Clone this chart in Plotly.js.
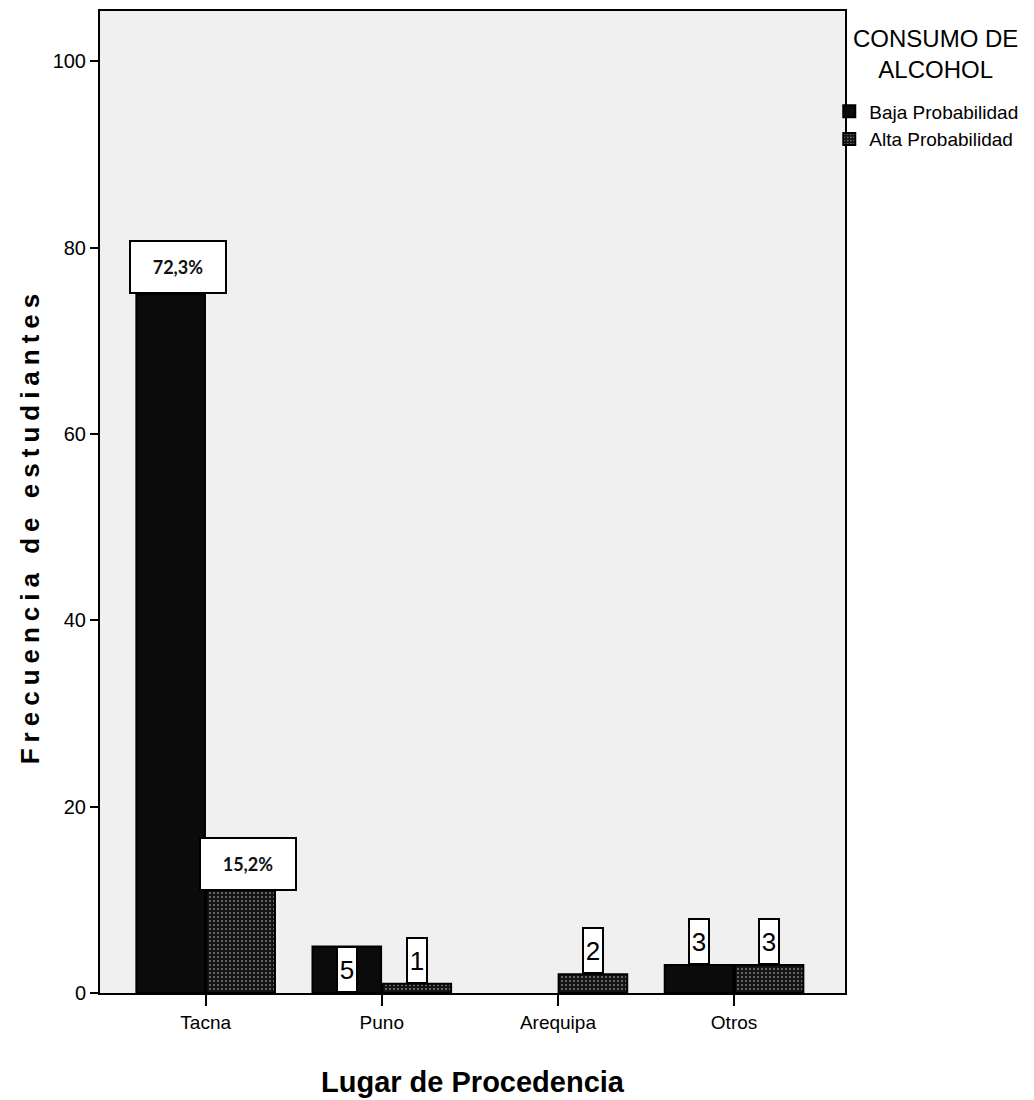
<!DOCTYPE html>
<html>
<head>
<meta charset="utf-8">
<script src="https://cdn.plot.ly/plotly-3.0.1.min.js"></script>
<style>
  html, body { margin: 0; padding: 0; background: #ffffff; }
  #chart { width: 1034px; height: 1100px; }
  .ytitle { letter-spacing: 6px; }
  .g-ytitle { transform: translate(2px, 24px); }
</style>
</head>
<body>
<div id="chart"></div>
<script>
// ---- data ----
var categories = ['Tacna', 'Puno', 'Arequipa', 'Otros'];
var seriesNames = ['Baja Probabilidad', 'Alta Probabilidad'];
var bajaValues = [75, 5, 0, 3];
var altaValues = [11, 1, 2, 3];
var bajaLabels = ['72,3%', '5', '', '3'];
var altaLabels = ['15,2%', '1', '2', '3'];
var yTickValues = [0, 20, 40, 60, 80, 100];
var legendTitle = 'CONSUMO DE<br>ALCOHOL';

var sans = '"Liberation Sans", Arial, sans-serif';

function outlineWidths(vals) { return vals.map(function (v) { return v > 0 ? 2 : 0; }); }

var traces = [
  {
    type: 'bar', name: seriesNames[0], x: categories, y: bajaValues,
    marker: { color: '#0b0b0b', line: { color: '#000000', width: outlineWidths(bajaValues) } },
    hoverinfo: 'none'
  },
  {
    type: 'bar', name: seriesNames[1], x: categories, y: altaValues,
    marker: {
      color: '#161616', line: { color: '#000000', width: outlineWidths(altaValues) },
      pattern: { shape: '.', fgcolor: '#808080', bgcolor: '#141414', size: 4, solidity: 0.2 }
    },
    hoverinfo: 'none'
  }
];

// value labels (white boxes) placed through the axis scales
var annotations = [];
function addLabels(labels, values, side) {
  for (var i = 0; i < categories.length; i++) {
    var t = labels[i];
    if (!t) continue;
    var isPct = t.indexOf('%') >= 0;
    var inside = (!isPct && side < 0 && values[i] >= 5);
    annotations.push({
      xref: 'x', yref: 'y', x: categories[i], y: inside ? 0 : values[i],
      xanchor: 'center', yanchor: 'bottom',
      xshift: side * 35 + (isPct ? 7 : 0),
      text: t, showarrow: false,
      bgcolor: '#ffffff', bordercolor: '#000000', borderwidth: 2, borderpad: 0,
      width: isPct ? 94 : 18, height: isPct ? 50 : 43,
      font: isPct
        ? { family: 'Lato, "Open Sans", sans-serif', size: 18, color: '#111', weight: 'bold' }
        : { family: sans, size: 26, color: '#000' }
    });
  }
}
addLabels(bajaLabels, bajaValues, -1);
addLabels(altaLabels, altaValues, 1);

// legend heading, centred over the legend
annotations.push({
  xref: 'paper', yref: 'paper', x: 1.121, y: 0.956,
  xanchor: 'center', yanchor: 'middle', align: 'center',
  text: legendTitle, showarrow: false,
  font: { family: sans, size: 24, color: '#000' }
});

var layout = {
  width: 1034, height: 1100,
  margin: { l: 100, r: 189, t: 11, b: 107, pad: 0, autoexpand: false },
  paper_bgcolor: '#ffffff',
  plot_bgcolor: '#f0f0f0',
  barmode: 'group',
  bargap: 0.205,
  bargroupgap: 0.02,
  showlegend: true,
  legend: {
    xref: 'container', yref: 'container',
    x: 0.802, xanchor: 'left', y: 0.916, yanchor: 'top',
    bgcolor: 'rgba(0,0,0,0)', borderwidth: 0,
    font: { family: sans, size: 19, color: '#000' },
    itemwidth: 30, traceorder: 'normal'
  },
  xaxis: {
    type: 'category', range: [-0.6, 3.63],
    showline: true, linecolor: '#000', linewidth: 2, mirror: true,
    ticks: 'outside', ticklen: 11, tickwidth: 2, tickcolor: '#000',
    tickfont: { family: sans, size: 19, color: '#000' },
    showgrid: false, zeroline: false,
    automargin: false,
    title: { text: 'Lugar de Procedencia', standoff: 40,
             font: { family: sans, size: 29, color: '#000', weight: 'bold' } }
  },
  yaxis: {
    range: [0, 105.4], tickvals: yTickValues,
    showline: true, linecolor: '#000', linewidth: 2, mirror: true,
    ticks: 'outside', ticklen: 8, tickwidth: 2, tickcolor: '#000',
    tickfont: { family: sans, size: 20, color: '#000' },
    showgrid: false, zeroline: false,
    automargin: false,
    title: { text: 'Frecuencia de estudiantes', standoff: 8,
             font: { family: sans, size: 26, color: '#000', weight: 'bold' } }
  },
  annotations: annotations
};

Plotly.newPlot('chart', traces, layout, { displayModeBar: false, staticPlot: true });
</script>
</body>
</html>
